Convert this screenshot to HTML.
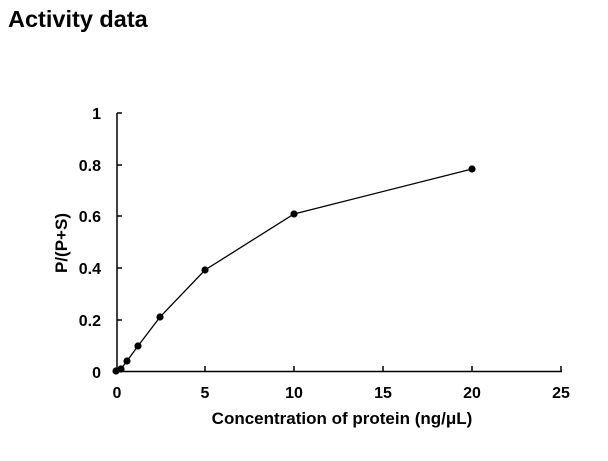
<!DOCTYPE html>
<html><head><style>body{margin:0;background:#fff;}svg{display:block;font-family:"Liberation Sans",Arial,sans-serif;font-weight:bold;}</style></head>
<body><svg width="608" height="461" xmlns="http://www.w3.org/2000/svg">
<text x="8" y="27" font-size="23.5">Activity data</text>
<g stroke="#000" stroke-width="1.5" fill="none">
<line x1="117" y1="113" x2="117" y2="372"/>
<line x1="116" y1="371.5" x2="562" y2="371.5"/>
<line x1="117" y1="113" x2="122" y2="113"/>
<line x1="117" y1="165" x2="122" y2="165"/>
<line x1="117" y1="216" x2="122" y2="216"/>
<line x1="117" y1="268" x2="122" y2="268"/>
<line x1="117" y1="320" x2="122" y2="320"/>
<line x1="205" y1="366" x2="205" y2="371"/>
<line x1="294" y1="366" x2="294" y2="371"/>
<line x1="383" y1="366" x2="383" y2="371"/>
<line x1="472" y1="366" x2="472" y2="371"/>
<line x1="561" y1="366" x2="561" y2="371"/>
<polyline stroke-width="1.3" points="116,371 121,369 127,361 138,346 160,317 205,270 294,214 472,169"/>
</g>
<g fill="#000">
<circle cx="116" cy="371" r="3.6"/><circle cx="121" cy="369" r="3.6"/><circle cx="127" cy="361" r="3.6"/><circle cx="138" cy="346" r="3.6"/><circle cx="160" cy="317" r="3.6"/><circle cx="205" cy="270" r="3.6"/><circle cx="294" cy="214" r="3.6"/><circle cx="472" cy="169" r="3.6"/>
</g>
<g font-size="16" text-anchor="end">
<text x="101" y="119">1</text><text x="101" y="171">0.8</text><text x="101" y="222">0.6</text><text x="101" y="274">0.4</text><text x="101" y="326">0.2</text><text x="101" y="378">0</text>
</g>
<g font-size="16" text-anchor="middle">
<text x="117" y="398">0</text><text x="205" y="398">5</text><text x="294" y="398">10</text><text x="383" y="398">15</text><text x="472" y="398">20</text><text x="561" y="398">25</text>
</g>
<g font-size="17" text-anchor="middle">
<text x="342" y="424">Concentration of protein (ng/μL)</text>
<text transform="translate(67,243) rotate(-90)">P/(P+S)</text>
</g>
</svg></body></html>
